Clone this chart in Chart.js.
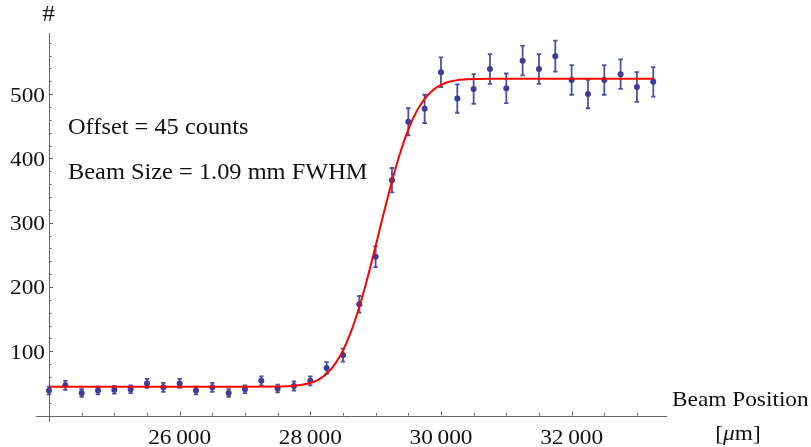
<!DOCTYPE html>
<html>
<head>
<meta charset="utf-8">
<script src="https://cdn.jsdelivr.net/npm/chart.js@4.4.1/dist/chart.umd.min.js"></script>
<style>
    html, body { margin: 0; padding: 0; background: #fff; }
    #beamChart { display: block; }
</style>
</head>
<body>
<canvas id="beamChart" width="811" height="447"></canvas>
<script>
// Measured counts along the scan (positions in um)
var positions = [24000, 24250, 24500, 24750, 25000, 25250, 25500, 25750, 26000, 26250,
                 26500, 26750, 27000, 27250, 27500, 27750, 28000, 28250, 28500, 28750,
                 29000, 29250, 29500, 29750, 30000, 30250, 30500, 30750, 31000, 31250,
                 31500, 31750, 32000, 32250, 32500, 32750, 33000, 33250];
var counts = [39, 47, 35, 39, 40, 41, 50, 44, 50, 39,
              44, 35, 41, 54, 42, 46, 54, 74, 94, 173,
              247, 366, 457, 477, 534, 493, 508, 539, 509, 552,
              539, 559, 522, 500, 522, 531, 511, 519];
var countErrors = [6, 7, 6, 6, 6, 6, 7, 7, 7, 6,
                   7, 6, 6, 7, 6, 7, 7, 9, 10, 13,
                   16, 19, 21, 22, 23, 22, 23, 23, 23, 23,
                   23, 24, 23, 22, 23, 23, 23, 23];

// Edge fit: offset 45 counts, 1.09 mm FWHM
var fitPositions = [24000, 27000, 27500, 27750, 28000, 28125, 28250, 28375, 28500, 28625,
                    28750, 28875, 29000, 29125, 29250, 29375, 29500, 29625, 29750, 29875,
                    30000, 30125, 30250, 30500, 30750, 33250];
var fitCounts = [45, 45, 45.2, 46.2, 50.6, 56.0, 65.1, 79.7, 101.2, 130.9,
                 168.8, 214.0, 263.9, 315.3, 364.5, 408.4, 444.7, 472.7, 492.7, 506.1,
                 514.4, 519.2, 521.7, 523.6, 524, 524];

// Axis ticks
var xMajorTicks = [26000, 28000, 30000, 32000];
var yMajorTicks = [100, 200, 300, 400, 500];
var xMinorStep = 500;
var yMinorStep = 20;

var serif = '22px "Liberation Serif", "Times New Roman", serif';
var noteFont = '23px "Liberation Serif", "Times New Roman", serif';
var stretch = 1.06;

function toPoints(xs, ys) {
    return xs.map(function (x, i) { return { x: x, y: ys[i] }; });
}

// serif text, slightly widened
function drawText(ctx, text, x, y, align, font) {
    ctx.save();
    ctx.font = font || serif;
    ctx.textAlign = 'left';
    ctx.textBaseline = 'alphabetic';
    var w = ctx.measureText(text).width * stretch;
    var left = align === 'center' ? x - w / 2 : (align === 'right' ? x - w : x);
    ctx.translate(left, y);
    ctx.scale(stretch, 1);
    ctx.fillText(text, 0, 0);
    ctx.restore();
    return w;
}

function formatTick(v) {
    var s = String(v);
    return s.length > 3 ? s.slice(0, s.length - 3) + '\u2009' + s.slice(-3) : s;
}

// axes, ticks and error bars under the data
var axesPlugin = {
    id: 'mathAxes',
    beforeDatasetsDraw: function (chart) {
        var ctx = chart.ctx;
        var xs = chart.scales.x, ys = chart.scales.y;
        var area = chart.chartArea;
        var x0 = xs.getPixelForValue(24000);
        var y0 = ys.getPixelForValue(0);

        ctx.save();
        ctx.strokeStyle = '#666';
        ctx.lineWidth = 1;
        ctx.beginPath();
        ctx.moveTo(area.left, Math.round(y0) + 0.5);
        ctx.lineTo(area.right, Math.round(y0) + 0.5);
        ctx.moveTo(Math.round(x0) + 0.5, area.top);
        ctx.lineTo(Math.round(x0) + 0.5, area.bottom);
        ctx.stroke();

        // x ticks point up into the plot
        ctx.beginPath();
        for (var v = 24000 + xMinorStep; v <= xs.max; v += xMinorStep) {
            var px = Math.round(xs.getPixelForValue(v)) + 0.5;
            var len = xMajorTicks.indexOf(v) >= 0 ? 4 : 2.5;
            ctx.moveTo(px, y0);
            ctx.lineTo(px, y0 - len);
        }
        // y ticks point right
        for (var w = yMinorStep; w <= ys.max; w += yMinorStep) {
            var py = Math.round(ys.getPixelForValue(w)) + 0.5;
            var l = yMajorTicks.indexOf(w) >= 0 ? 4 : 2.5;
            ctx.moveTo(x0, py);
            ctx.lineTo(x0 + l, py);
        }
        ctx.stroke();

        // error bars
        ctx.strokeStyle = 'rgba(61, 61, 153, 0.9)';
        ctx.lineWidth = 1.8;
        ctx.beginPath();
        positions.forEach(function (p, i) {
            var px = xs.getPixelForValue(p);
            var top = ys.getPixelForValue(counts[i] + countErrors[i]);
            var bot = ys.getPixelForValue(counts[i] - countErrors[i]);
            ctx.moveTo(px, top);
            ctx.lineTo(px, bot);
            ctx.moveTo(px - 2.2, top);
            ctx.lineTo(px + 2.2, top);
            ctx.moveTo(px - 2.2, bot);
            ctx.lineTo(px + 2.2, bot);
        });
        ctx.stroke();
        ctx.restore();
    },
    afterDraw: function (chart) {
        var ctx = chart.ctx;
        var xs = chart.scales.x, ys = chart.scales.y;
        var x0 = xs.getPixelForValue(24000);
        ctx.save();
        ctx.fillStyle = '#111';

        xMajorTicks.forEach(function (v) {
            drawText(ctx, formatTick(v), xs.getPixelForValue(v), 444, 'center');
        });
        yMajorTicks.forEach(function (v) {
            drawText(ctx, String(v), x0 - 4, ys.getPixelForValue(v) + 7.5, 'right');
        });

        drawText(ctx, '#', 48.5, 21, 'center', '24px "Liberation Serif", serif');
        drawText(ctx, 'Offset = 45 counts', 68, 133.5, 'left', noteFont);
        drawText(ctx, 'Beam Size = 1.09 mm FWHM', 68, 178.5, 'left', noteFont);
        drawText(ctx, 'Beam Position', 672, 406, 'left');

        // [μm] with italic mu
        var italic = 'italic ' + serif;
        ctx.font = serif;
        var wb = ctx.measureText('[').width * stretch;
        var wm = ctx.measureText('m]').width * stretch;
        ctx.font = italic;
        var wmu = ctx.measureText('\u03bc').width * stretch;
        var start = 738 - (wb + wmu + wm) / 2;
        drawText(ctx, '[', start, 440, 'left');
        drawText(ctx, '\u03bc', start + wb, 440, 'left', italic);
        drawText(ctx, 'm]', start + wb + wmu, 440, 'left');
        ctx.restore();
    }
};

document.addEventListener('DOMContentLoaded', function () {
    var ctx = document.getElementById('beamChart').getContext('2d');

    var beamChart = new Chart(ctx, {
        type: 'scatter',
        data: {
            datasets: [{
                label: 'fit',
                data: toPoints(fitPositions, fitCounts),
                showLine: true,
                borderColor: '#ff0000',
                borderWidth: 2,
                pointRadius: 0,
                cubicInterpolationMode: 'monotone',
                order: 0
            }, {
                label: 'counts',
                data: toPoints(positions, counts),
                pointRadius: 3,
                pointBackgroundColor: '#3d3d99',
                pointBorderWidth: 0,
                order: 1
            }]
        },
        options: {
            responsive: false,
            animation: false,
            devicePixelRatio: 1,
            layout: {
                padding: { left: 36, right: 144, top: 33, bottom: 25 }
            },
            scales: {
                x: { type: 'linear', min: 23801, max: 33460, display: false },
                y: { type: 'linear', min: -10, max: 595, display: false }
            },
            plugins: {
                legend: { display: false },
                tooltip: { enabled: false }
            }
        },
        plugins: [axesPlugin]
    });
});
</script>
</body>
</html>
